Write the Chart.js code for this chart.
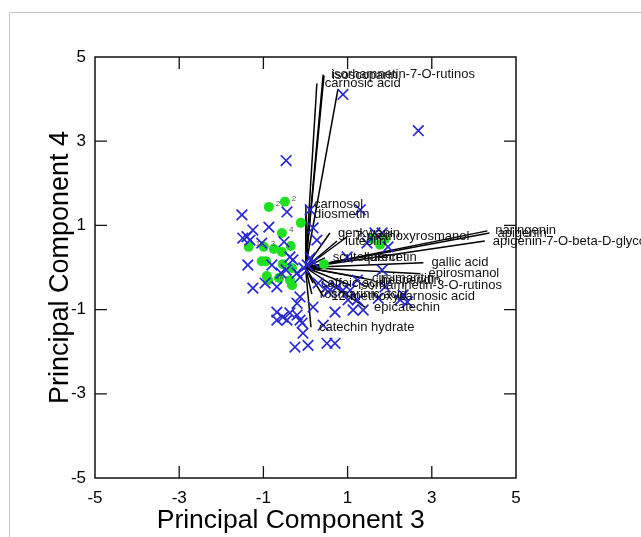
<!DOCTYPE html>
<html>
<head>
<meta charset="utf-8">
<script src="https://cdn.jsdelivr.net/npm/chart.js@4.4.1/dist/chart.umd.min.js"></script>
<style>
  html, body { margin: 0; padding: 0; background: #fff; }
  canvas { display: block; }
</style>
</head>
<body>
<canvas id="myChart" width="641" height="537"></canvas>
<script>
/* global Chart */

// sample scores (blue crosses)
const pc3Blue = [0.89, 2.68, -0.46, -1.51, -1.25, -1.39, -1.32, -1.49, -0.87, -0.44, -0.51, -1.37, -0.80, -0.37, -0.30, -1.25, -0.96, -0.68, -0.20, -0.13, 0.11, 0.18, 0.27, 0.11, 0.18, 0.30, -0.13, -0.20, 0.18, -0.68, -0.54, -0.37, -0.20, -0.13, -0.68, -0.44, -0.08, 0.42, 0.70, -0.06, -0.25, 0.06, 0.51, 0.70, 1.13, 1.37, 1.23, 1.06, 0.75, 0.89, 1.82, 1.89, 2.25, 2.42, 2.32, 1.23, 1.46, 1.65, 1.82, 1.96, 1.30, 0.51, -1.04, 0.04, -0.04, -0.46, -0.58, 0.99, 1.73, 0.54, 1.01];
const pc4Blue = [4.11, 3.25, 2.54, 1.25, 0.89, 0.73, 0.65, 0.70, 0.96, 1.32, 0.61, 0.06, 0.06, 0.25, 0.18, -0.49, -0.37, -0.46, -0.13, -0.23, 1.37, 0.94, 0.65, 0.23, 0.13, -0.37, -0.70, -0.85, -0.94, -1.06, -1.18, -1.08, -1.13, -1.25, -1.25, -1.25, -1.32, -1.37, -1.06, -1.56, -1.89, -1.85, -1.80, -1.80, -1.01, -1.01, -0.77, -0.54, -0.46, -0.54, -0.06, -0.46, -0.77, -0.82, -0.65, -0.30, 0.58, 0.82, 0.82, 0.49, 1.37, -0.46, 0.58, 0.06, -0.01, -0.06, -0.13, 0.25, -0.73, -0.58, -0.77];

// sample scores (green dots) + their little tags
const pc3Green = [-0.87, -0.49, -0.11, -0.56, -1.35, -0.99, -0.75, -0.56, -0.35, -1.04, -0.94, -0.54, -0.32, -0.92, -0.89, -0.63, -0.37, -0.32, 0.44, 1.58, 1.89, 1.77];
const pc4Green = [1.44, 1.56, 1.06, 0.82, 0.49, 0.49, 0.44, 0.37, 0.51, 0.15, 0.15, 0.08, -0.01, -0.20, -0.30, -0.25, -0.30, -0.42, 0.08, 0.68, 0.68, 0.54];
const greenTags = ['2', '2', '', '4', '12', '3', '', '', '', '', '', '', '', '', '10', '', '', '', '', '', '', ''];

// loadings (vectors from the origin)
const loadingNames = ['isoscoparin', 'isorhamnetin-7-O-rutinos', 'carnosic acid', '', 'carnosol', 'diosmetin', 'genkwanin', 'luteolin', '7-methoxyrosmanol', 'apigenin', 'naringenin', 'apigenin-7-O-beta-D-glycoside', 'scutellarein', 'quercetin', 'gallic acid', 'epirosmanol', 'cirsimaritin', 'hesperidin', 'isorhamnetin-3-O-rutinos', 'caffeic acid', 'rosmarinic acid', '12-methoxycarnosic acid', 'epicatechin', 'catechin hydrate'];
const loadingPc3 = [0.44, 0.42, 0.27, 0.77, 0.01, 0.01, 0.58, 0.75, 0.99, 4.37, 4.32, 4.26, 0.46, 1.18, 2.80, 2.73, 1.39, 1.60, 1.06, 0.18, 0.15, 0.42, 1.44, 0.13];
const loadingPc4 = [4.56, 4.58, 4.37, 4.23, 1.49, 1.27, 0.82, 0.63, 0.73, 0.82, 0.87, 0.63, 0.23, 0.23, 0.11, -0.15, -0.25, -0.30, -0.42, -0.37, -0.63, -0.68, -0.96, -1.42];

const axisTicks = [-5, -3, -1, 1, 3, 5];

const FONT = '"Liberation Sans", Arial, sans-serif';

const blueData = pc3Blue.map((v, i) => ({ x: v, y: pc4Blue[i] }));
const greenData = pc3Green.map((v, i) => ({ x: v, y: pc4Green[i] }));

const vectorSets = loadingNames.map((name, i) => ({
  label: name,
  data: [{ x: 0, y: 0 }, { x: loadingPc3[i], y: loadingPc4[i] }],
  showLine: true,
  borderColor: '#000',
  borderWidth: 1.5,
  pointRadius: 0,
  fill: false
}));

const frame = {
  id: 'frame',
  beforeDraw(chart) {
    const ctx = chart.ctx;
    ctx.save();
    ctx.strokeStyle = '#c4c4c4';
    ctx.lineWidth = 1;
    ctx.beginPath();
    ctx.moveTo(9.5, 537);
    ctx.lineTo(9.5, 12.5);
    ctx.lineTo(641, 12.5);
    ctx.stroke();
    ctx.restore();
  },
  afterDatasetsDraw(chart) {
    const { ctx, chartArea: a, scales: { x, y } } = chart;
    ctx.save();
    // names at the vector tips
    ctx.fillStyle = '#111';
    ctx.font = '13px ' + FONT;
    ctx.textAlign = 'left';
    ctx.textBaseline = 'middle';
    loadingNames.forEach((name, i) => {
      if (!name) return;
      ctx.fillText(name, x.getPixelForValue(loadingPc3[i]) + 8, y.getPixelForValue(loadingPc4[i]));
    });
    // tiny tags next to green dots
    ctx.fillStyle = '#555';
    ctx.font = '8px ' + FONT;
    greenTags.forEach((t, i) => {
      if (!t) return;
      ctx.fillText(t, x.getPixelForValue(pc3Green[i]) + 7, y.getPixelForValue(pc4Green[i]) - 3);
    });
    // box + inward ticks
    ctx.strokeStyle = '#111';
    ctx.lineWidth = 1.5;
    ctx.strokeRect(a.left, a.top, a.right - a.left, a.bottom - a.top);
    ctx.lineWidth = 1.3;
    ctx.beginPath();
    axisTicks.slice(1, -1).forEach(v => {
      const px = x.getPixelForValue(v);
      const py = y.getPixelForValue(v);
      ctx.moveTo(px, a.bottom); ctx.lineTo(px, a.bottom - 12);
      ctx.moveTo(px, a.top); ctx.lineTo(px, a.top + 12);
      ctx.moveTo(a.left, py); ctx.lineTo(a.left + 12, py);
      ctx.moveTo(a.right, py); ctx.lineTo(a.right - 12, py);
    });
    ctx.stroke();
    ctx.restore();
  }
};

const setTicks = scale => { scale.ticks = axisTicks.map(v => ({ value: v })); };

new Chart(document.getElementById('myChart'), {
  type: 'scatter',
  data: {
    datasets: [
      {
        label: 'samples',
        data: blueData,
        pointStyle: 'crossRot',
        pointRadius: 7.5,
        borderColor: '#2828d2',
        backgroundColor: '#2828d2',
        borderWidth: 1.7
      },
      {
        label: 'group',
        data: greenData,
        pointStyle: 'circle',
        pointRadius: 5,
        borderWidth: 0,
        backgroundColor: '#1fe01f'
      },
      ...vectorSets
    ]
  },
  options: {
    responsive: false,
    animation: false,
    devicePixelRatio: 1,
    layout: { padding: { top: 57, right: 125, left: 0, bottom: 0 } },
    plugins: { legend: { display: false }, tooltip: { enabled: false } },
    scales: {
      x: {
        type: 'linear',
        min: -5,
        max: 5,
        grid: { display: false, drawTicks: false },
        border: { display: false },
        ticks: { color: '#000', padding: 10, maxRotation: 0, font: { size: 17, family: FONT } },
        title: { display: true, text: 'Principal Component 3    ', color: '#000', font: { size: 26.5, family: FONT }, padding: { top: 0, bottom: 0 } },
        afterBuildTicks: setTicks,
        afterFit: s => { s.height = 59; }
      },
      y: {
        type: 'linear',
        min: -5,
        max: 5,
        grid: { display: false, drawTicks: false },
        border: { display: false },
        ticks: { color: '#000', padding: 9, font: { size: 17, family: FONT } },
        title: { display: true, text: 'Principal Component 4', color: '#000', font: { size: 27, family: FONT }, padding: { top: 44, bottom: 0 } },
        afterBuildTicks: setTicks,
        afterFit: s => { s.width = 95; }
      }
    }
  },
  plugins: [frame]
});
</script>
</body>
</html>
